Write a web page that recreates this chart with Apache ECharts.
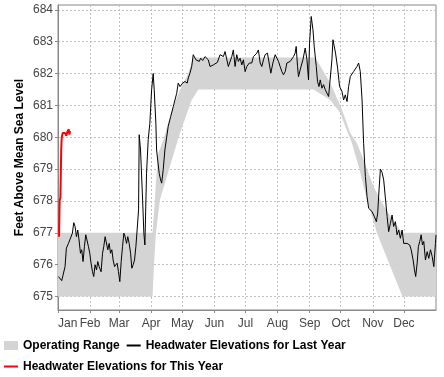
<!DOCTYPE html>
<html>
<head>
<meta charset="utf-8">
<script src="https://cdn.jsdelivr.net/npm/echarts@6/dist/echarts.min.js"></script>
<style>
  html, body { margin: 0; padding: 0; background: #fff; }
  #chart { width: 444px; height: 377px; }
</style>
</head>
<body>
<div id="chart"></div>
<script>
// month starts (day of year) and their labels
var monthStarts = [0, 31, 59, 90, 120, 151, 181, 212, 243, 273, 304, 334];
var monthNames = ['Jan','Feb','Mar','Apr','May','Jun','Jul','Aug','Sep','Oct','Nov','Dec'];
var yTicks = [675, 676, 677, 678, 679, 680, 681, 682, 683, 684];

// operating range band, upper and lower edges
var bandUpperDays = [0, 91.3, 93.6, 94.5, 96.8, 101.6, 106.4, 111.3, 117.8, 125.8, 130.6, 248.4, 262.9, 274.2, 282.2, 288.7, 295.1, 304.8, 311.3, 321, 332.3, 365];
var bandUpperFt   = [677, 677, 678.03, 678.56, 679.5, 679.9, 680.44, 680.96, 681.49, 682.0, 682.5, 682.5, 681.7, 680.86, 680.13, 679.81, 679.29, 678.45, 678.03, 677.51, 677.0, 677];
var bandLowerDays = [0, 91.3, 92.6, 94.5, 98.4, 108, 117.8, 129.1, 135.5, 246.7, 262.9, 272.6, 277.4, 283.9, 290.3, 298.4, 308.1, 321, 332.6, 365];
var bandLowerFt   = [675, 675, 675.94, 676.99, 678.03, 679.08, 680.13, 681.17, 681.5, 681.5, 681.17, 680.76, 680.34, 679.81, 679.08, 678.03, 676.99, 675.94, 675.0, 675];

// headwater elevations for last year
var lastYearDays = [0.4, 1.6, 3.6, 5.5, 6.8, 8.1, 10.1, 12.0, 13.9, 15.2, 16.5, 17.8, 19.1, 20.3, 21.7, 22.9, 24.2, 25.5, 26.8, 28.1,
  29.4, 30.7, 31.9, 33.3, 34.5, 35.8, 37.2, 38.4, 39.7, 41.6, 43.0, 44.2, 45.5, 46.8, 48.1, 49.4, 50.7, 52.0, 53.2, 54.6,
  55.8, 57.1, 58.4, 59.7, 61.0, 62.3, 63.6, 64.8, 66.2, 67.4, 68.7, 70.1, 71.3, 72.6, 73.9, 75.2, 76.4, 77.8, 78.4, 79.7,
  81.7, 82.9, 83.9, 85.5, 87.1, 88.7, 90.4, 91.9, 92.9, 94.5, 95.2, 97.7, 99.1, 100.1, 101.6, 103.2, 106.4, 108.8, 111.3, 114.6,
  116.1, 117.8, 120.4, 122.6, 124.8, 125.8, 127.4, 129.1, 130.6, 131.6, 133.2, 134.5, 136.4, 137.8, 139.7, 142.0, 143.6, 145.1, 146.8, 148.4,
  150.0, 151.6, 153.9, 156.5, 158.1, 159.7, 161.3, 162.9, 164.5, 166.1, 167.8, 169.3, 171.0, 172.6, 174.2, 175.8, 177.5, 179.0, 180.7, 182.3,
  184.8, 187.1, 188.7, 190.3, 192.0, 193.5, 195.2, 196.8, 198.4, 200.0, 202.2, 203.9, 205.5, 207.5, 209.7, 211.3, 212.9, 214.5, 216.2, 217.7,
  219.4, 221.0, 222.6, 224.2, 225.8, 227.4, 229.0, 230.0, 231.3, 232.2, 234.5, 236.5, 238.7, 240.4, 241.9, 242.9, 244.5, 246.2, 247.4, 249.4,
  250.6, 252.0, 253.2, 254.9, 256.4, 258.1, 259.7, 261.3, 262.9, 264.5, 265.5, 266.8, 268.0, 270.0, 271.9, 274.2, 275.8, 277.4, 279.1, 280.6,
  282.3, 283.9, 285.4, 287.1, 288.7, 290.3, 291.9, 293.6, 295.1, 296.8, 298.4, 300.0, 303.2, 305.5, 307.4, 308.7, 310.0, 311.3, 312.9, 314.5,
  317.8, 319.3, 321.0, 322.6, 324.1, 325.8, 327.4, 329.0, 330.6, 332.3, 333.8, 335.5, 337.1, 339.6, 341.0, 342.9, 344.2, 345.4, 346.8, 348.0,
  349.3, 350.7, 351.9, 353.2, 354.8, 356.5, 358.0, 359.7, 361.3, 362.9, 364.5, 365.0];
var lastYearFt = [675.63, 675.58, 675.50, 675.55, 675.94, 676.52, 676.67, 676.73, 676.99, 677.32, 677.20, 676.88, 677.09, 676.78, 676.36, 676.47, 676.10, 676.57, 676.94, 676.99,
  676.57, 676.36, 676.05, 675.78, 675.63, 676.00, 675.84, 676.10, 675.94, 675.78, 676.36, 676.57, 676.88, 676.94, 676.47, 676.67, 676.36, 676.47, 676.15, 675.94,
  675.89, 676.05, 675.78, 675.47, 676.10, 676.57, 676.99, 676.88, 676.67, 676.88, 676.67, 676.36, 675.89, 676.00, 676.15, 676.57, 677.09, 677.72, 680.08, 679.60,
  678.03, 676.99, 676.62, 678.87, 679.92, 680.44, 681.49, 682.00, 681.49, 680.44, 679.60, 678.87, 678.66, 678.56, 678.98, 679.60, 680.34, 680.65, 680.96, 681.38,
  681.70, 681.59, 681.70, 681.75, 681.70, 681.86, 682.01, 682.22, 682.59, 682.64, 682.43, 682.48, 682.38, 682.48, 682.41, 682.53, 682.56, 682.43, 682.22, 682.17,
  682.27, 682.27, 682.35, 682.59, 682.64, 682.53, 682.69, 682.74, 682.22, 682.17, 682.53, 682.74, 682.22, 682.59, 682.38, 682.48, 682.27, 682.43, 682.06, 682.22,
  682.33, 682.33, 682.53, 682.59, 682.64, 682.74, 682.33, 682.22, 682.43, 682.59, 682.64, 682.33, 682.01, 682.33, 682.59, 682.64, 682.38, 682.22, 682.06, 681.96,
  682.06, 682.33, 682.35, 682.38, 682.43, 682.53, 682.64, 682.85, 682.22, 681.90, 682.20, 682.43, 682.80, 682.43, 681.80, 682.95, 683.79, 683.37, 682.85, 682.22,
  681.75, 681.59, 681.80, 681.54, 681.65, 681.49, 681.54, 681.28, 681.33, 682.43, 683.06, 683.11, 682.64, 682.17, 681.59, 681.44, 681.17, 681.33, 681.12, 681.59,
  681.91, 681.86, 682.06, 682.01, 682.22, 682.33, 682.06, 681.17, 679.81, 678.77, 678.14, 677.77, 677.67, 677.51, 677.35, 677.62, 678.35, 679.00, 678.90, 678.66,
  677.51, 677.04, 677.30, 677.56, 677.20, 677.35, 676.94, 677.09, 676.83, 677.09, 676.67, 676.73, 676.67, 676.62, 676.47, 676.15, 675.84, 675.63, 676.05, 676.57,
  676.73, 676.94, 676.62, 676.73, 676.15, 676.41, 676.20, 676.47, 676.26, 675.94, 676.67, 676.94];

// headwater elevations for this year
var thisYearDays = [1.0, 1.6, 2.3, 3.1, 3.6, 4.5, 5.5, 6.8, 8.1, 9.1, 10.4, 11.0, 11.6];
var thisYearFt   = [676.88, 678.03, 678.10, 679.60, 680.00, 680.13, 680.08, 680.13, 680.05, 680.18, 680.25, 680.08, 680.20];

function pairs(xs, ys) {
  return xs.map(function (x, i) { return [x, ys[i]]; });
}

var font = "'Liberation Sans', Arial, sans-serif";

var option = {
  animation: false,
  backgroundColor: '#fff',
  grid: {
    left: 58, right: 8, top: 5, bottom: 67,
    show: true, borderColor: '#888', borderWidth: 1, backgroundColor: '#fff'
  },
  legend: {
    left: -2, top: 333, right: 0,
    itemWidth: 14, itemHeight: 9, itemGap: 6,
    textStyle: { fontFamily: font, fontSize: 12, fontWeight: 'bold', color: '#000', lineHeight: 15 },
    data: [
      { name: 'Operating Range', icon: 'rect' },
      { name: 'Headwater Elevations for Last Year', itemStyle: { opacity: 0 } },
      { name: 'Headwater Elevations for This Year', itemStyle: { opacity: 0 } }
    ]
  },
  xAxis: {
    type: 'value', min: 0, max: 365,
    axisLine: { lineStyle: { color: '#888' } },
    axisTick: { customValues: monthStarts, length: 3, lineStyle: { color: '#888' } },
    axisLabel: {
      customValues: monthStarts, alignMinLabel: 'left',
      margin: 8, fontFamily: font, fontSize: 12, color: '#444',
      formatter: function (v) { return monthNames[monthStarts.indexOf(v)]; }
    },
    splitLine: { show: true, lineStyle: { color: '#c0c0c0', type: [2, 2] } }
  },
  yAxis: {
    type: 'value', min: 674.58, max: 684.15,
    name: 'Feet Above Mean Sea Level', nameLocation: 'middle', nameRotate: 90, nameGap: 32,
    nameMoveOverlap: false,
    nameTextStyle: { fontFamily: font, fontSize: 12, fontWeight: 'bold', color: '#000' },
    axisLine: { show: true, lineStyle: { color: '#888' } },
    axisTick: { show: true, customValues: yTicks, length: 3, lineStyle: { color: '#888' } },
    axisLabel: { customValues: yTicks, margin: 5, fontFamily: font, fontSize: 12, color: '#444' },
    splitLine: { show: true, lineStyle: { color: '#c0c0c0', type: [2, 2] } }
  },
  series: [
    {
      name: 'Operating Range',
      type: 'custom',
      itemStyle: { color: '#d4d4d4' },
      data: [[bandUpperDays[0], bandUpperFt[0]]],
      renderItem: function (params, api) {
        var pts = [];
        for (var i = 0; i < bandUpperDays.length; i++) pts.push(api.coord([bandUpperDays[i], bandUpperFt[i]]));
        for (var j = bandLowerDays.length - 1; j >= 0; j--) pts.push(api.coord([bandLowerDays[j], bandLowerFt[j]]));
        return { type: 'polygon', shape: { points: pts }, style: { fill: '#d4d4d4' } };
      },
      z: 1
    },
    {
      name: 'Headwater Elevations for Last Year',
      type: 'line',
      symbol: 'none',
      color: '#000',
      lineStyle: { color: '#000', width: 1 },
      data: pairs(lastYearDays, lastYearFt),
      z: 2
    },
    {
      name: 'Headwater Elevations for This Year',
      type: 'line',
      symbol: 'none',
      color: '#ff0000',
      lineStyle: { color: '#ff0000', width: 2 },
      data: pairs(thisYearDays, thisYearFt),
      z: 3
    }
  ]
};

var myChart = echarts.init(document.getElementById('chart'));
myChart.setOption(option);
</script>
</body>
</html>
